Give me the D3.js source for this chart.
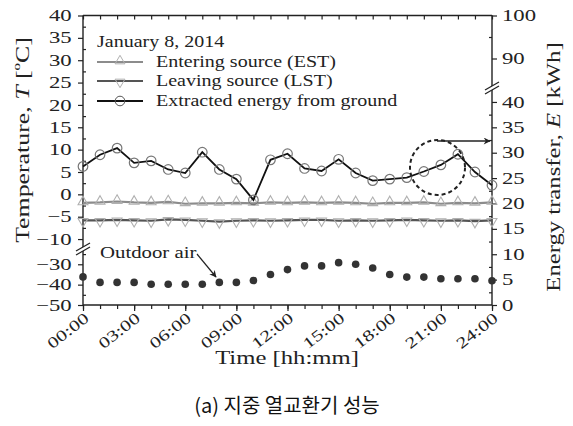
<!DOCTYPE html>
<html><head><meta charset="utf-8">
<script src="https://cdn.jsdelivr.net/npm/d3@7"></script>
<style>body{margin:0;background:#fff}</style>
</head><body><svg id="c" width="573" height="426"></svg>
<script>
// ---------------- data ----------------
const hours = [0,1,2,3,4,5,6,7,8,9,10,11,12,13,14,15,16,17,18,19,20,21,22,23,24];
const tickHours = [0,3,6,9,12,15,18,21,24];
const tickLabels = ["00:00","03:00","06:00","09:00","12:00","15:00","18:00","21:00","24:00"];
const estTemp = [-1.9,-1.8,-1.6,-1.8,-1.9,-1.7,-2.1,-2.0,-2.0,-1.9,-2.0,-1.8,-1.9,-1.8,-1.9,-1.8,-1.9,-2.1,-1.9,-1.9,-1.8,-2.1,-1.9,-2.0,-1.8];
const lstTemp = [-5.8,-5.8,-5.7,-5.8,-5.9,-5.6,-5.7,-5.9,-6.1,-5.9,-5.8,-5.9,-5.8,-5.7,-5.7,-5.9,-5.8,-5.9,-5.8,-5.7,-5.8,-5.9,-5.8,-6.0,-5.8];
const extractedEnergy = [27.3,29.6,30.9,28.0,28.4,26.7,26.0,30.1,26.7,24.8,20.7,28.6,29.8,26.9,26.4,28.7,26.0,24.5,24.8,25.1,26.3,27.6,29.7,26.2,23.6];
const outdoorAir = [-36.2,-38.9,-38.9,-38.9,-39.8,-39.8,-39.8,-39.8,-38.9,-38.9,-38.0,-35.0,-32.6,-30.8,-30.8,-29.2,-30.0,-31.8,-35.0,-36.3,-36.3,-37.1,-37.1,-37.1,-38.1];
const leftTicksUpper = [40,35,30,25,20,15,10,5,0,-5,-10];
const leftMinorUpper = [37.5,32.5,27.5,22.5,17.5,12.5,7.5,2.5,-2.5,-7.5];
const leftTicksLower = [-30,-40,-50];
const leftMinorLower = [-25,-35,-45];
const rightTicksLower = [0,5,10,15,20,25,30,35,40];
const rightMinorLower = [2.5,7.5,12.5,17.5,22.5,27.5,32.5,37.5];
const rightTicksUpper = [90,100];
const rightMinorUpper = [95];
const legendItems = ["Entering source (EST)","Leaving source (LST)","Extracted energy from ground"];

// ---------------- layout ----------------
const svg = d3.select("#c");
const L = 83, R = 492, T = 15.5, B = 305;
const SERIF = "'Liberation Serif','Times New Roman',serif";
const INK = "#222";
const x = d3.scaleLinear().domain([0,24]).range([L,R]);
const yT = d3.scaleLinear().domain([-12,40]).range([248,T]);     // left, upper segment
const yTb = d3.scaleLinear().domain([-50,-22]).range([B,248]);   // left, lower segment
const yE = d3.scaleLinear().domain([0,42]).range([B,91.8]);      // right, lower segment
const yEu = d3.scaleLinear().domain([86,100]).range([75.7,T]);   // right, upper segment

function wtext(g, tx, ty, str, opt) {
  const o = Object.assign({size:16, sx:1.3, anchor:"start", rot:0, base:"central", family:SERIF}, opt||{});
  const t = g.append("text")
    .attr("transform", `translate(${tx},${ty}) rotate(${o.rot}) scale(${o.sx},1)`)
    .attr("font-family", o.family).attr("font-size", o.size)
    .attr("text-anchor", o.anchor).attr("dominant-baseline", o.base)
    .attr("fill", INK);
  if (typeof str === "string") t.text(str); else str(t);
  return t;
}

function styleAxis(g, sx) {
  g.select(".domain").remove();
  g.selectAll("line").attr("stroke", INK).attr("stroke-width", 1.2);
  g.attr("font-family", SERIF).attr("font-size", 16);
  g.selectAll("text").attr("fill", INK).attr("transform", `scale(${sx},1)`);
}

// frame lines
const frame = svg.append("g").attr("stroke", INK).attr("stroke-width", 1.4);
frame.append("line").attr("x1", L).attr("x2", R).attr("y1", T).attr("y2", T);
frame.append("line").attr("x1", L).attr("x2", R).attr("y1", B).attr("y2", B);
frame.append("line").attr("x1", L).attr("x2", L).attr("y1", T).attr("y2", B);
frame.append("line").attr("x1", R).attr("x2", R).attr("y1", T).attr("y2", B);

// left axis
styleAxis(svg.append("g").attr("transform", `translate(${L},0)`)
  .call(d3.axisLeft(yT).tickValues(leftTicksUpper).tickSize(5).tickPadding(3)), 1.42);
styleAxis(svg.append("g").attr("transform", `translate(${L},0)`)
  .call(d3.axisLeft(yTb).tickValues(leftTicksLower).tickSize(5).tickPadding(3)), 1.42);
styleAxis(svg.append("g").attr("transform", `translate(${L},0)`)
  .call(d3.axisLeft(yT).tickValues(leftMinorUpper).tickSize(-3).tickFormat("")), 1);
styleAxis(svg.append("g").attr("transform", `translate(${L},0)`)
  .call(d3.axisLeft(yTb).tickValues(leftMinorLower).tickSize(-3).tickFormat("")), 1);
// right axis
styleAxis(svg.append("g").attr("transform", `translate(${R},0)`)
  .call(d3.axisRight(yE).tickValues(rightTicksLower).tickSize(5).tickPadding(2)), 1.42);
styleAxis(svg.append("g").attr("transform", `translate(${R},0)`)
  .call(d3.axisRight(yEu).tickValues(rightTicksUpper).tickSize(5).tickPadding(2)), 1.42);
styleAxis(svg.append("g").attr("transform", `translate(${R},0)`)
  .call(d3.axisRight(yE).tickValues(rightMinorLower).tickSize(-3).tickFormat("")), 1);
styleAxis(svg.append("g").attr("transform", `translate(${R},0)`)
  .call(d3.axisRight(yEu).tickValues(rightMinorUpper).tickSize(-3).tickFormat("")), 1);
// bottom axis
styleAxis(svg.append("g").attr("transform", `translate(0,${B})`)
  .call(d3.axisBottom(x).tickValues(hours).tickSize(4).tickFormat("")), 1);
styleAxis(svg.append("g").attr("transform", `translate(0,${B})`)
  .call(d3.axisBottom(x).tickValues(tickHours).tickSize(6).tickFormat("")), 1);
// top axis (inward)
styleAxis(svg.append("g").attr("transform", `translate(0,${T})`)
  .call(d3.axisTop(x).tickValues(hours).tickSize(-4).tickFormat("")), 1);

// axis breaks
function brk(cx, cy) {
  const g = svg.append("g");
  g.append("polygon").attr("points", `${cx-7},${cy+5} ${cx+7},${cy-3} ${cx+7},${cy-7} ${cx-7},${cy+1}`).attr("fill", "#fff");
  g.append("line").attr("x1", cx-7).attr("y1", cy+5).attr("x2", cx+7).attr("y2", cy-3).attr("stroke", INK).attr("stroke-width", 1.3);
  g.append("line").attr("x1", cx-7).attr("y1", cy+1).attr("x2", cx+7).attr("y2", cy-7).attr("stroke", INK).attr("stroke-width", 1.3);
}
brk(L, 250);
brk(R, 89);

// x tick labels
const xl = svg.append("g");
tickHours.forEach((h, i) => {
  wtext(xl, x(h) + 4, B + 11, tickLabels[i], {size:15.5, sx:1.36, anchor:"end", rot:-38});
});

// axis titles
wtext(svg, 287, 358, "Time [hh:mm]", {size:19, sx:1.3, anchor:"middle"});
wtext(svg, 22, 140, t => {
  t.append("tspan").text("Temperature, ");
  t.append("tspan").attr("font-style", "italic").text("T");
  t.append("tspan").text(" [");
  t.append("tspan").attr("font-size", 11).attr("dy", -6).text("o");
  t.append("tspan").attr("dy", 6).text("C]");
}, {size:19, sx:1.36, anchor:"middle", rot:-90});
wtext(svg, 553, 167, t => {
  t.append("tspan").text("Energy transfer, ");
  t.append("tspan").attr("font-style", "italic").text("E");
  t.append("tspan").text(" [kWh]");
}, {size:19, sx:1.3, anchor:"middle", rot:-90});

// caption
svg.append("text").attr("x", 287).attr("y", 404).attr("text-anchor", "middle").attr("dominant-baseline", "central")
  .attr("font-family", "'Noto Sans CJK KR','Noto Sans',sans-serif").attr("font-size", 20).attr("fill", "#111")
  .text("(a) 지중 열교환기 성능");

// ---------------- series ----------------
const tri = d3.symbol().type(d3.symbolTriangle).size(42);
const lineT = d3.line().x((d, i) => x(hours[i])).y(d => yT(d));
const lineE = d3.line().x((d, i) => x(hours[i])).y(d => yE(d));

svg.append("path").attr("d", lineT(estTemp)).attr("fill", "none").attr("stroke", "#8c8c8c").attr("stroke-width", 2.2);
svg.append("g").selectAll("path").data(estTemp).join("path")
  .attr("d", tri).attr("transform", (d, i) => `translate(${x(hours[i])},${yT(d) - 1})`)
  .attr("fill", "none").attr("stroke", "#b0b0b0").attr("stroke-width", 1.1);

svg.append("path").attr("d", lineT(lstTemp)).attr("fill", "none").attr("stroke", "#555").attr("stroke-width", 2.2);
svg.append("g").selectAll("path").data(lstTemp).join("path")
  .attr("d", tri).attr("transform", (d, i) => `translate(${x(hours[i])},${yT(d) + 1}) rotate(180)`)
  .attr("fill", "none").attr("stroke", "#b0b0b0").attr("stroke-width", 1.1);

svg.append("path").attr("d", lineE(extractedEnergy)).attr("fill", "none").attr("stroke", "#111").attr("stroke-width", 1.8);
svg.append("g").selectAll("circle").data(extractedEnergy).join("circle")
  .attr("cx", (d, i) => x(hours[i])).attr("cy", d => yE(d)).attr("r", 4.8)
  .attr("fill", "none").attr("stroke", "#777").attr("stroke-width", 1.2);

svg.append("g").selectAll("circle").data(outdoorAir).join("circle")
  .attr("cx", (d, i) => x(hours[i])).attr("cy", d => yTb(d)).attr("r", 3.8)
  .attr("fill", "#333");

// ---------------- annotations ----------------
const defs = svg.append("defs");
defs.append("marker").attr("id", "ah").attr("viewBox", "0 0 10 10").attr("refX", 9).attr("refY", 5)
  .attr("markerWidth", 9).attr("markerHeight", 7).attr("markerUnits", "userSpaceOnUse").attr("orient", "auto")
  .append("path").attr("d", "M0,0 L10,5 L0,10 L3,5 Z").attr("fill", INK);

wtext(svg, 100, 252, "Outdoor air", {size:16, sx:1.3});
svg.append("line").attr("x1", 197).attr("y1", 254).attr("x2", 216).attr("y2", 277)
  .attr("stroke", INK).attr("stroke-width", 1.2).attr("marker-end", "url(#ah)");

svg.append("circle").attr("cx", 437.5).attr("cy", 167.5).attr("r", 27.5)
  .attr("fill", "none").attr("stroke", INK).attr("stroke-width", 2).attr("stroke-dasharray", "4,3");
svg.append("line").attr("x1", 437).attr("y1", 141).attr("x2", 490).attr("y2", 141)
  .attr("stroke", INK).attr("stroke-width", 1.3).attr("marker-end", "url(#ah)");

// legend
const lg = svg.append("g");
wtext(lg, 97, 42, "January 8, 2014", {size:16, sx:1.25});
const ly = [62, 81, 101];
const lcol = ["#8c8c8c", "#555", "#111"];
ly.forEach((yy, i) => {
  lg.append("line").attr("x1", 97).attr("x2", 143).attr("y1", yy).attr("y2", yy).attr("stroke", lcol[i]).attr("stroke-width", 2);
  if (i === 0) lg.append("path").attr("d", tri).attr("transform", `translate(120,${yy - 1})`).attr("fill", "none").attr("stroke", "#b0b0b0");
  if (i === 1) lg.append("path").attr("d", tri).attr("transform", `translate(120,${yy + 1}) rotate(180)`).attr("fill", "none").attr("stroke", "#b0b0b0");
  if (i === 2) lg.append("circle").attr("cx", 120).attr("cy", yy).attr("r", 4.8).attr("fill", "none").attr("stroke", "#555");
  wtext(lg, 156, yy, legendItems[i], {size:16, sx:1.25});
});
</script></body></html>
